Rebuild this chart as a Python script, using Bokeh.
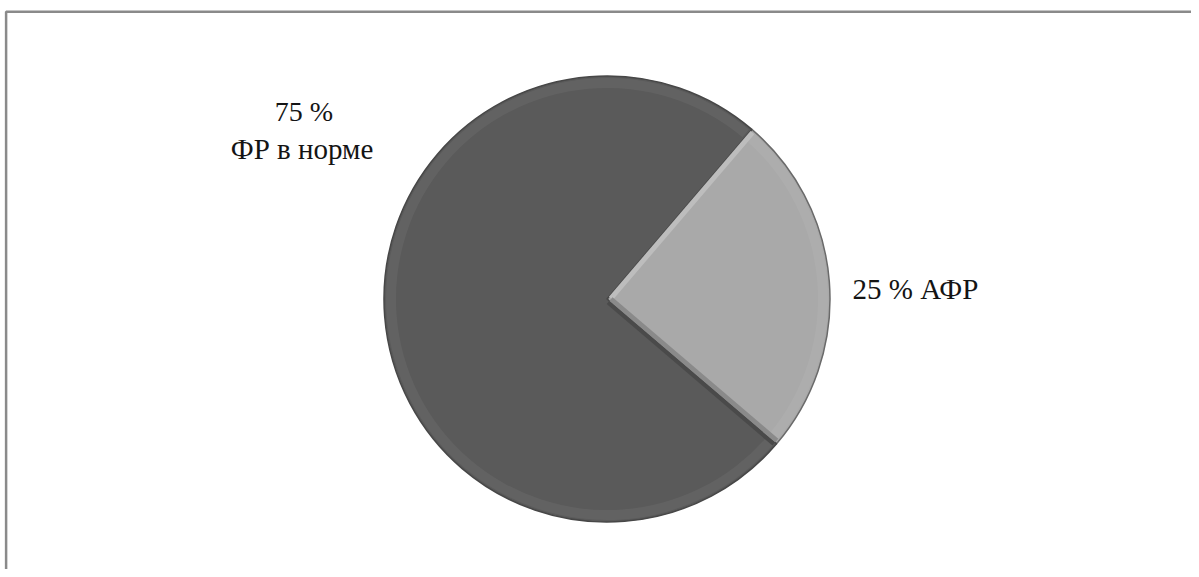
import math
from bokeh.plotting import figure
from bokeh.models import Range1d
from bokeh.core.properties import value
from bokeh.embed import file_html
from bokeh.resources import INLINE

# ---- data ----
categories = ["ФР в норме", "АФР"]
values = [75, 25]
pct_labels = ["75 %", "25 %"]
colors = ["#5a5a5a", "#a9a9a9"]
edge_colors = ["#474747", "#6a6a6a"]

# ---- layout constants (data space == picture pixels, y flipped) ----
W, H = 1191, 569
TOP = 577
cx, cy = 606.5, TOP - 298.5
R = 223
start_offset = math.radians(-40.5)   # where the small slice begins

p = figure(width=W, height=H, output_backend="svg", toolbar_location=None,
           x_range=Range1d(0, W), y_range=Range1d(TOP - H, TOP),
           min_border=0, outline_line_color=None)
p.axis.visible = False
p.grid.visible = False
p.background_fill_color = "white"
p.border_fill_color = "white"

total = sum(values)
order = [1, 0]
a = start_offset
angles = {}
for i in order:
    span = values[i] / total * 2 * math.pi
    angles[i] = (a, a + span)
    a += span

for i in order:
    s, e = angles[i]
    p.wedge(x=cx, y=cy, radius=R, start_angle=s, end_angle=e,
            fill_color=colors[i], line_color=edge_colors[i], line_width=1.5)
    p.annular_wedge(x=cx, y=cy, inner_radius=R - 12, outer_radius=R - 2,
                    start_angle=s + 0.01, end_angle=e - 0.01,
                    fill_color="white", fill_alpha=0.05, line_color=None)

# bevel strips along the radial edges of the small slice
def strip(angle, width, side):
    nx, ny = -math.sin(angle) * side, math.cos(angle) * side
    ux, uy = math.cos(angle), math.sin(angle)
    xs = [cx + ux * 3, cx + ux * (R - 2), cx + ux * (R - 2) + nx * width, cx + ux * 3 + nx * width]
    ys = [cy + uy * 3, cy + uy * (R - 2), cy + uy * (R - 2) + ny * width, cy + uy * 3 + ny * width]
    return xs, ys

s1, e1 = angles[1]
xs, ys = strip(e1, 5, -1)
p.patch(xs, ys, fill_color="#bdbdbd", line_color=None)
xs, ys = strip(s1, 5, 1)
p.patch(xs, ys, fill_color="#8a8a8a", line_color=None)
xs, ys = strip(s1, 4, -1)
p.patch(xs, ys, fill_color="#4a4a4a", line_color=None)

# frame lines (top and left) as one polyline
bx, by = 5.6, TOP - 11.3
p.line(x=[bx, bx, W], y=[TOP - H, by, by], line_color="#8a8a8a", line_width=2.5)

font = value("'Liberation Serif', 'Times New Roman', serif")
p.text(x=[303.5], y=[TOP - 111], text=[pct_labels[0]], text_font=font,
       text_font_size="28px", text_align="center", text_baseline="alphabetic",
       text_color="#141414")
p.text(x=[301.5], y=[TOP - 148.5], text=[categories[0]], text_font=font,
       text_font_size="29px", text_align="center", text_baseline="alphabetic",
       text_color="#141414")
p.text(x=[852], y=[TOP - 288.5], text=[pct_labels[1] + " " + categories[1]], text_font=font,
       text_font_size="29px", text_align="left", text_baseline="alphabetic",
       text_color="#141414")

open("out.html", "w").write(file_html(p, INLINE))
